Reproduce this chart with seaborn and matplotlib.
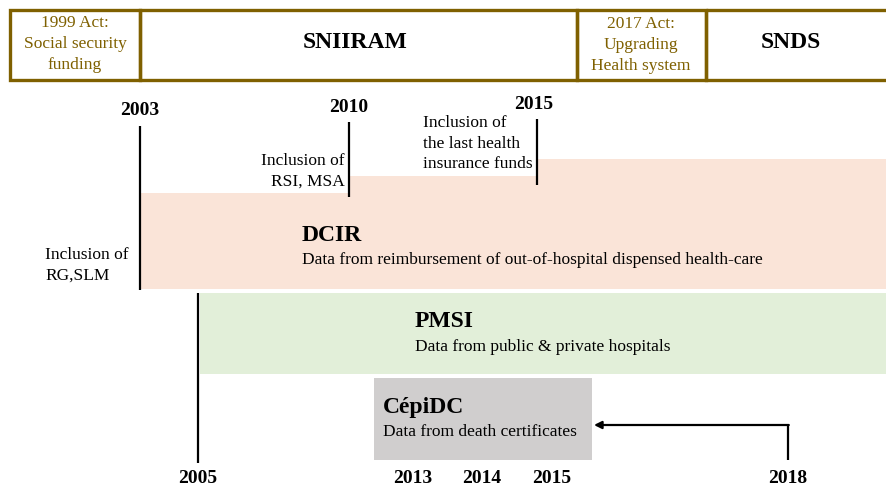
import matplotlib
matplotlib.use("Agg")
import matplotlib.pyplot as plt
import seaborn as sns
from matplotlib.patches import Rectangle

# ---------------- data ----------------
periods = ["1999 Act:\nSocial security\nfunding", "SNIIRAM",
           "2017 Act:\nUpgrading\nHealth system", "SNDS"]
period_is_act = [True, False, True, False]
top_years = ["2003", "2010", "2015"]
top_events = ["Inclusion of\nRG,SLM", "Inclusion of\nRSI, MSA",
              "Inclusion of\nthe last health\ninsurance funds"]
bottom_years = ["2005", "2013", "2014", "2015", "2018"]
sources = ["DCIR", "PMSI", "CépiDC"]
source_desc = ["Data from reimbursement of out-of-hospital dispensed health-care",
               "Data from public & private hospitals",
               "Data from death certificates"]

# ---------------- layout (pixel coordinates) ----------------
W, H = 887, 486
period_edges = [10, 140, 577, 706, 895]
period_cx = [75, 355, 641, 791]
period_cy = [44, 42, 45, 42]
box_top, box_bot = 10, 80
top_year_x = [140, 349, 534]
top_year_y = [110, 107, 104]
top_line_x = [140, 349, 537]
top_line_y = [(126, 290), (122, 197), (119, 185)]
event_pos = [(45, 265, "left"), (345, 171, "right"), (423, 143.5, "left")]
dcir_steps_x = [140, 349, 537, W + 5]
dcir_steps_top = [193, 176, 159]
dcir_bottom = 289
pmsi_box = (200, 293, W + 5, 374)
cepi_box = (374, 378, 592, 460)
bottom_year_x = [198, 413, 482, 552, 788]
bottom_year_y = 478
line2005 = (198, 293, 463)
arrow_pts = [(788, 460), (788, 425), (594, 425)]
source_text = [(302, 235, 260), (415, 321, 347), (383, 407, 432)]

brown = "#7F6000"
peach = "#FAE4D8"
green = "#E2EFD9"
grey = "#D0CECE"

sns.set_theme(style="white")
plt.rcParams['font.family'] = ['Liberation Serif', 'DejaVu Serif']
plt.rcParams['text.color'] = 'black'

fig = plt.figure(figsize=(W / 100, H / 100), dpi=100)
ax = fig.add_axes([0, 0, 1, 1])
ax.set_xlim(0, W)
ax.set_ylim(H, 0)
ax.axis("off")

FS_BODY = 12.5
FS_TITLE = 17
FS_YEAR = 14
LS = 1.4

# ---- top period boxes ----
for i, label in enumerate(periods):
    x0, x1 = period_edges[i], period_edges[i + 1]
    ax.add_patch(Rectangle((x0, box_top), x1 - x0, box_bot - box_top,
                           fill=False, edgecolor=brown, linewidth=2.4, zorder=3))
    if period_is_act[i]:
        ax.text(period_cx[i], period_cy[i], label, ha="center", va="center",
                color=brown, fontsize=FS_BODY, linespacing=LS)
    else:
        ax.text(period_cx[i], period_cy[i], label, ha="center", va="center",
                color="black", fontsize=FS_TITLE, fontweight="bold")

# ---- DCIR stepped band ----
for i in range(3):
    xa, xb = dcir_steps_x[i], dcir_steps_x[i + 1]
    ax.fill_between([xa, xb], dcir_steps_top[i], dcir_bottom,
                    color=peach, linewidth=0, zorder=1)

# ---- PMSI band ----
x0, y0, x1, y1 = pmsi_box
ax.add_patch(Rectangle((x0, y0), x1 - x0, y1 - y0, color=green, linewidth=0, zorder=1))

# ---- CépiDC box ----
x0, y0, x1, y1 = cepi_box
ax.add_patch(Rectangle((x0, y0), x1 - x0, y1 - y0, color=grey, linewidth=0, zorder=1))

# ---- top year markers ----
for yr, xl, yl, lx, (ya, yb) in zip(top_years, top_year_x, top_year_y, top_line_x, top_line_y):
    ax.text(xl, yl, yr, ha="center", va="center", fontsize=FS_YEAR, fontweight="bold")
    ax.plot([lx, lx], [ya, yb], color="black", linewidth=1.6, zorder=4,
            solid_capstyle="butt")

for ev, (ex, ey, ha) in zip(top_events, event_pos):
    ax.text(ex, ey, ev, ha=ha, va="center", fontsize=FS_BODY, linespacing=LS, zorder=5)

# ---- sources text ----
for name, desc, (tx, ty1, ty2) in zip(sources, source_desc, source_text):
    ax.text(tx, ty1, name, ha="left", va="center", fontsize=FS_TITLE, fontweight="bold")
    ax.text(tx, ty2, desc, ha="left", va="center", fontsize=FS_BODY)

# ---- bottom years ----
for yr, bx in zip(bottom_years, bottom_year_x):
    ax.text(bx, bottom_year_y, yr, ha="center", va="center", fontsize=FS_YEAR,
            fontweight="bold")
lx, ya, yb = line2005
ax.plot([lx, lx], [ya, yb], color="black", linewidth=1.6, zorder=4, solid_capstyle="butt")

# ---- arrow from 2018 ----
(ax0, ay0), (ax1, ay1), (ax2, ay2) = arrow_pts
ax.plot([ax0, ax1], [ay0, ay1], color="black", linewidth=1.6, solid_capstyle="butt")
ax.annotate("", xy=(ax2, ay2), xytext=(ax1 + 0.8, ay1),
            arrowprops=dict(arrowstyle="-|>", color="black", lw=1.6,
                            mutation_scale=11, shrinkA=0, shrinkB=0))

fig.savefig("out.png", dpi=100)
